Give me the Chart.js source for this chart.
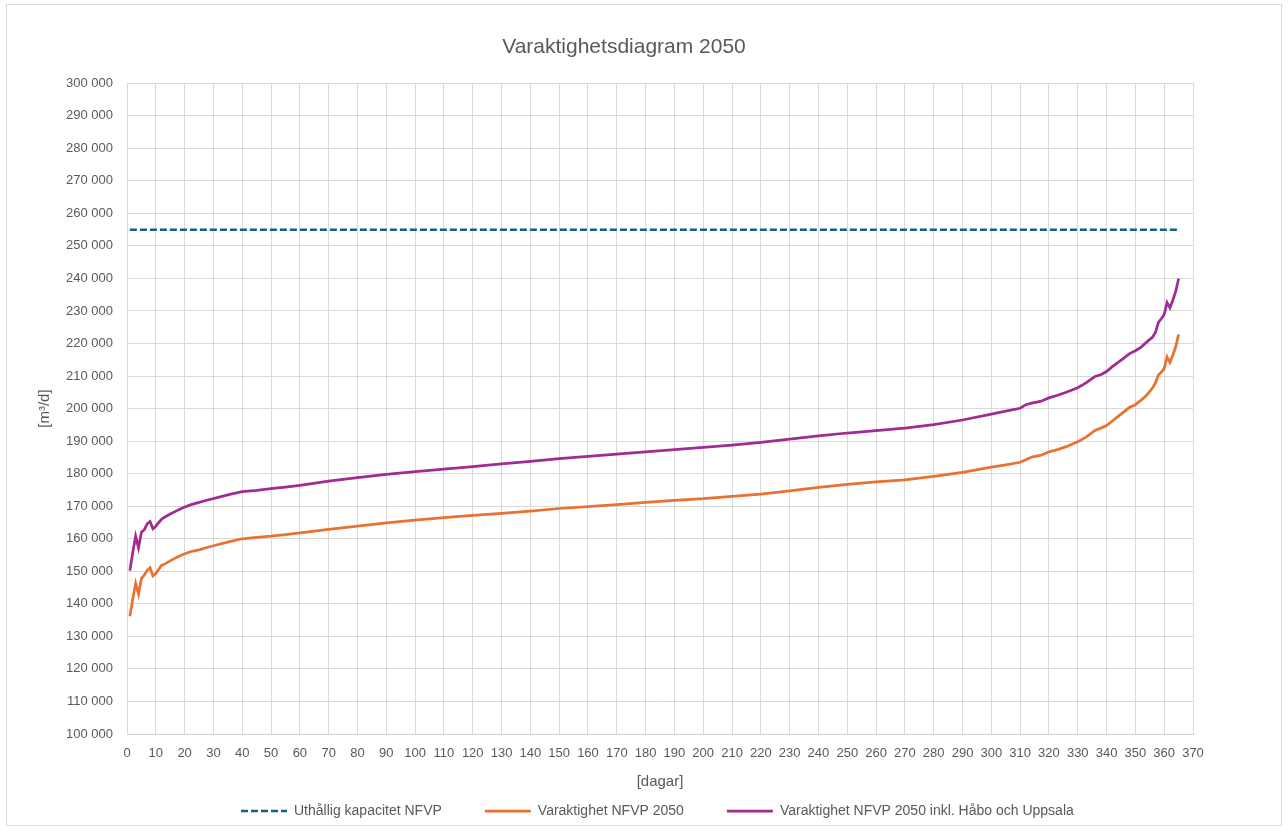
<!DOCTYPE html>
<html>
<head>
<meta charset="utf-8">
<script src="https://cdn.jsdelivr.net/npm/chart.js@4.4.1/dist/chart.umd.min.js"></script>
<style>
  html, body { margin: 0; padding: 0; background: #ffffff; overflow: hidden; }
  #wrap { position: relative; width: 1288px; height: 831px; }
</style>
</head>
<body>
<div id="wrap"><canvas id="c"></canvas></div>
<script>
const chartTitle = 'Varaktighetsdiagram 2050';
const xTitle = '[dagar]';
const yTitle = '[m³/d]';
const seriesNames = ['Uthållig kapacitet NFVP', 'Varaktighet NFVP 2050', 'Varaktighet NFVP 2050 inkl. Håbo och Uppsala'];

const capacityDays = [1, 365];
const capacityValues = [255000, 255000];

const days = [1,2,3,4,5,6,7,8,9,10,11,12,13,15,17,19,22,25,28,32,36,40,45,50,55,60,
  70,80,90,100,110,120,130,140,150,160,170,180,190,200,210,220,230,240,250,260,270,280,290,300,
  305,310,312,314,317,320,323,326,330,333,336,338,340,342,344,346,348,350,352,354,356,
  357,358,359,360,361,362,363,364,365];

const nfvp2050 = [136200,141500,146300,143000,147800,148800,150300,151100,148600,149300,150600,151800,152200,153200,154200,155000,156000,156600,157400,158300,159200,160000,160400,160800,161300,161800,
  162900,163900,164900,165700,166500,167200,167800,168500,169300,169900,170500,171200,171800,172300,173000,173700,174700,175800,176700,177500,178100,179200,180400,182000,
  182700,183500,184300,185100,185600,186700,187400,188300,189800,191300,193300,194000,194800,196200,197600,199000,200400,201200,202600,204200,206400,
  208000,210300,211200,212300,215900,214200,216500,219000,222800];

const nfvp2050inkl = [150200,155800,160800,157200,162000,162800,164600,165300,163100,163800,165000,166000,166600,167600,168500,169400,170400,171200,171900,172800,173700,174500,174900,175400,175900,176400,
  177700,178800,179800,180600,181400,182200,183000,183800,184600,185300,186000,186700,187400,188100,188800,189600,190600,191600,192500,193200,194000,195100,196500,198300,
  199200,200100,201200,201700,202200,203300,204100,205000,206400,208000,209900,210400,211400,212900,214200,215500,216900,217800,218900,220500,222000,
  223500,226500,227600,228900,232600,231000,233300,236000,239900];

const xMin = 0, xMax = 370, xStep = 10;
const yMin = 100000, yMax = 300000, yStep = 10000;

const toPoints = (xs, ys) => xs.map((x, i) => ({ x: x, y: ys[i] }));
const fmt = v => String(v).replace(/\B(?=(\d{3})+(?!\d))/g, ' ');

const textColor = '#595959';
const gridColor = '#d9d9d9';
Chart.defaults.font.family = '"Liberation Sans", Arial, sans-serif';
Chart.defaults.color = textColor;

const frame = {
  id: 'frame',
  beforeDraw(chart) {
    const ctx = chart.ctx;
    ctx.save();
    ctx.fillStyle = '#ffffff';
    ctx.fillRect(0, 0, chart.width, chart.height);
    ctx.strokeStyle = '#d9d9d9';
    ctx.lineWidth = 1;
    ctx.strokeRect(6.5, 4.5, 1275, 821);
    ctx.restore();
  },
  afterLayout(chart) {
    const lg = chart.legend;
    if (lg) { lg.left = 198; lg.top = 761; }
  }
};

new Chart(document.getElementById('c'), {
  type: 'line',
  data: {
    datasets: [
      { label: seriesNames[0], data: toPoints(capacityDays, capacityValues), borderColor: '#156082', backgroundColor: '#156082',
        borderWidth: 2.5, borderDash: [7, 3], pointRadius: 0, fill: false, tension: 0 },
      { label: seriesNames[1], data: toPoints(days, nfvp2050), borderColor: '#E97132', backgroundColor: '#E97132',
        borderWidth: 2.75, pointRadius: 0, fill: false, tension: 0 },
      { label: seriesNames[2], data: toPoints(days, nfvp2050inkl), borderColor: '#A02B93', backgroundColor: '#A02B93',
        borderWidth: 2.75, pointRadius: 0, fill: false, tension: 0 }
    ]
  },
  options: {
    responsive: true,
    maintainAspectRatio: false,
    animation: false,
    layout: { padding: { left: 0, right: 40, top: 0, bottom: 5 } },
    plugins: {
      title: {
        display: true, text: chartTitle, color: textColor,
        font: { size: 21, weight: 'normal' },
        padding: { top: 35, bottom: 23 }
      },
      legend: {
        display: true, position: 'bottom', align: 'start', maxHeight: 20,
        labels: {
          usePointStyle: true, pointStyle: 'line', pointStyleWidth: 46,
          boxHeight: 14, padding: 43, color: textColor,
          font: { size: 14 },
          generateLabels(chart) {
            return chart.data.datasets.map((ds, i) => ({
              text: ds.label,
              fillStyle: ds.borderColor,
              strokeStyle: ds.borderColor,
              fontColor: textColor,
              lineWidth: ds.borderWidth,
              lineDash: ds.borderDash || [],
              pointStyle: 'line',
              hidden: !chart.isDatasetVisible(i),
              datasetIndex: i
            }));
          }
        }
      },
      tooltip: { enabled: false }
    },
    scales: {
      x: {
        type: 'linear', min: xMin, max: xMax,
        ticks: { stepSize: xStep, padding: 12, color: textColor, font: { size: 13 } },
        grid: { color: gridColor, drawTicks: false },
        border: { color: '#cfcfcf' },
        title: { display: true, text: xTitle, color: textColor, font: { size: 15 }, padding: { top: 0, bottom: 15 } },
        afterFit(s) { s.height = 72; }
      },
      y: {
        type: 'linear', min: yMin, max: yMax,
        ticks: { stepSize: yStep, padding: 14, color: textColor, font: { size: 13 }, callback: v => fmt(v) },
        grid: { color: gridColor, drawTicks: false },
        border: { color: gridColor },
        title: { display: true, text: yTitle, color: textColor, font: { size: 15 }, padding: { top: 36, bottom: 0 } },
        afterFit(s) { s.width = 127; }
      },
      y2: {
        type: 'linear', position: 'right', min: 0, max: 1, display: true,
        ticks: { display: false },
        grid: { display: false, drawTicks: false },
        border: { display: false },
        afterFit(s) { s.width = 55; }
      }
    }
  },
  plugins: [frame]
});
</script>
</body>
</html>
